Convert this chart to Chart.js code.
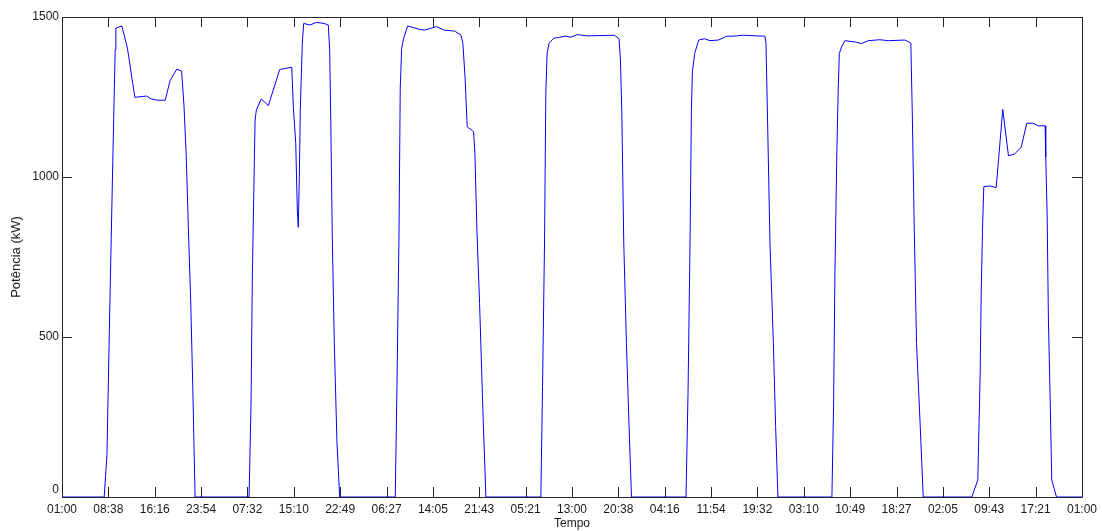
<!DOCTYPE html>
<html>
<head>
    <meta charset="utf-8" />
    <title>Potência</title>
    <style>
        html, body { margin: 0; padding: 0; background: #fff; }
        canvas { display: block; }
    </style>
</head>
<body>
    <canvas id="grafico" width="1102" height="531"></canvas>

    <script src="https://cdn.jsdelivr.net/npm/chart.js@4.4.1/dist/chart.umd.min.js"></script>
    <script>
        // rotulos do eixo x (7 dias, de 01:00 a 01:00)
        const rotulosTempo = ['01:00', '08:38', '16:16', '23:54', '07:32', '15:10', '22:49', '06:27',
            '14:05', '21:43', '05:21', '13:00', '20:38', '04:16', '11:54', '19:32', '03:10', '10:49',
            '18:27', '02:05', '09:43', '17:21', '01:00'];
        const marcasPotencia = [0, 500, 1000, 1500];
        const totalHoras = 168;

        // horas contadas a partir de 01:00 do primeiro dia
        const horas = [
            0, 6.95, 7.4, 7.9, 8.4, 8.76, 8.87, 9.86, 10.78, 12.0, 13.9, 14.7, 15.7, 17.0, 17.8, 18.9, 19.7, 20.1, 20.44, 20.89, 21.21, 21.54, 21.92,
            30.81, 31.14, 31.35, 31.8, 32.01, 32.83, 33.99, 35.86, 37.84, 38.1, 38.5, 38.76, 38.92, 39.09, 39.25, 39.58, 39.81, 40.85, 41.89, 43.15, 43.86, 44.09, 44.26, 44.52, 44.85, 45.29, 45.74,
            54.89, 55.17, 55.5, 55.71, 55.94, 56.27, 56.93, 58.79, 59.73, 61.64, 62.95, 64.66, 65.7, 66.03, 66.41, 66.74, 67.79, 68.01, 68.34, 68.78, 69.32, 69.82,
            78.87, 79.15, 79.48, 79.69, 79.9, 80.23, 81.01, 81.78, 82.87, 83.85, 84.84, 86.44, 91.0, 91.75, 91.98, 92.2, 92.53, 92.97, 93.4, 93.8,
            102.78, 103.11, 103.44, 103.67, 103.83, 104.21, 104.87, 105.86, 106.73, 108.11, 109.48, 110.58, 112.23, 114.42, 115.78, 115.95, 116.18, 116.61, 117.17, 117.54, 117.92,
            126.81, 127.09, 127.3, 127.63, 127.86, 128.03, 128.41, 128.95, 130.6, 131.7, 132.8, 134.71, 136.09, 138.82, 139.48, 139.81, 140.04, 140.37, 140.75, 141.36, 141.85,
            149.85, 150.84, 151.23, 151.4, 151.61, 151.83, 152.88, 153.87, 154.95, 155.89, 156.88, 157.98, 158.9, 159.89, 160.83, 161.93, 162.03, 162.26, 162.47, 162.75, 163.02, 163.8, 168
        ];

        // potencia em kW
        const potencia = [
            0, 0, 130, 615, 1080, 1397, 1465, 1472, 1402, 1249, 1253, 1244, 1240, 1240, 1301, 1337, 1331, 1220, 1075, 794, 606, 345, 0,
            0, 294, 688, 1178, 1209, 1244, 1223, 1336, 1343, 1220, 1105, 897, 843, 1001, 1209, 1418, 1480, 1475, 1483, 1480, 1475, 1397, 1189, 813, 481, 169, 0,
            0, 345, 813, 1277, 1402, 1433, 1472, 1462, 1459, 1470, 1459, 1456, 1444, 1418, 1303, 1157, 1142, 1074, 834, 605, 272, 0,
            0, 345, 803, 1261, 1386, 1418, 1434, 1436, 1440, 1437, 1445, 1441, 1443, 1432, 1366, 1209, 793, 480, 220, 0,
            0, 324, 793, 1209, 1329, 1386, 1428, 1432, 1426, 1428, 1440, 1440, 1443, 1441, 1440, 1418, 1209, 793, 480, 220, 0,
            0, 293, 688, 1084, 1282, 1386, 1407, 1426, 1422, 1417, 1426, 1429, 1426, 1428, 1422, 1418, 1209, 845, 480, 220, 0,
            0, 53, 386, 636, 834, 970, 972, 967, 1211, 1066, 1072, 1092, 1168, 1168, 1160, 1160, 1063, 886, 553, 313, 53, 0, 0
        ];

        const fonte = { family: "'Liberation Sans', Arial, sans-serif", size: 12 };

        // caixa em volta do grafico com marcas para dentro (estilo matlab)
        const moldura = {
            id: 'moldura',
            beforeDatasetsDraw(chart) {
                const { ctx, chartArea: a, scales } = chart;
                const tam = 10;
                ctx.save();
                ctx.strokeStyle = '#262626';
                ctx.lineWidth = 1;
                ctx.beginPath();
                ctx.rect(a.left + 0.5, a.top + 0.5, a.right - a.left, a.bottom - a.top);
                scales.x.ticks.forEach((t) => {
                    const px = Math.round(scales.x.getPixelForValue(t.value)) + 0.5;
                    ctx.moveTo(px, a.bottom);
                    ctx.lineTo(px, a.bottom - tam);
                    ctx.moveTo(px, a.top);
                    ctx.lineTo(px, a.top + tam);
                });
                scales.y.ticks.forEach((t) => {
                    const py = Math.round(scales.y.getPixelForValue(t.value)) + 0.5;
                    ctx.moveTo(a.left, py);
                    ctx.lineTo(a.left + tam, py);
                    ctx.moveTo(a.right, py);
                    ctx.lineTo(a.right - tam, py);
                });
                ctx.stroke();
                ctx.restore();
            }
        };

        const ctx = document.getElementById('grafico');
        const grafico = new Chart(ctx, {
            type: 'line',
            data: {
                datasets: [{
                    data: horas.map((h, i) => ({ x: h, y: potencia[i] })),
                    borderColor: '#0000ff',
                    borderWidth: 1,
                    pointRadius: 0,
                    tension: 0,
                    fill: false
                }]
            },
            options: {
                responsive: false,
                animation: false,
                layout: { padding: { top: 17, right: 18, left: 0, bottom: 0 } },
                plugins: {
                    legend: { display: false },
                    tooltip: { enabled: false }
                },
                scales: {
                    x: {
                        type: 'linear',
                        min: 0,
                        max: totalHoras,
                        afterBuildTicks: (s) => {
                            s.ticks = rotulosTempo.map((_, i) => ({ value: i * totalHoras / (rotulosTempo.length - 1) }));
                        },
                        afterFit: (s) => { s.height = 34; },
                        grid: { display: false, drawTicks: false },
                        border: { display: false },
                        ticks: {
                            autoSkip: false,
                            maxRotation: 0,
                            padding: 5,
                            color: '#1a1a1a',
                            font: fonte,
                            callback: (v, i) => rotulosTempo[i]
                        },
                        title: {
                            display: true,
                            text: 'Tempo',
                            color: '#1a1a1a',
                            font: { family: fonte.family, size: 12 },
                            padding: { top: 0, bottom: 0 }
                        }
                    },
                    y: {
                        min: 0,
                        max: 1500,
                        afterBuildTicks: (s) => {
                            s.ticks = marcasPotencia.map((v) => ({ value: v }));
                        },
                        afterFit: (s) => { s.width = 62; },
                        grid: { display: false, drawTicks: false },
                        border: { display: false },
                        ticks: {
                            padding: 3,
                            color: '#1a1a1a',
                            font: fonte,
                            // o zero fica um pouco acima do eixo, como no original
                            callback: (v) => (v === 0 ? ['0', ''] : String(v))
                        },
                        title: {
                            display: true,
                            text: 'Potência (kW)',
                            color: '#1a1a1a',
                            font: { family: fonte.family, size: 13 },
                            padding: { top: 9, bottom: 0 }
                        }
                    }
                }
            },
            plugins: [moldura]
        });
    </script>
</body>
</html>
